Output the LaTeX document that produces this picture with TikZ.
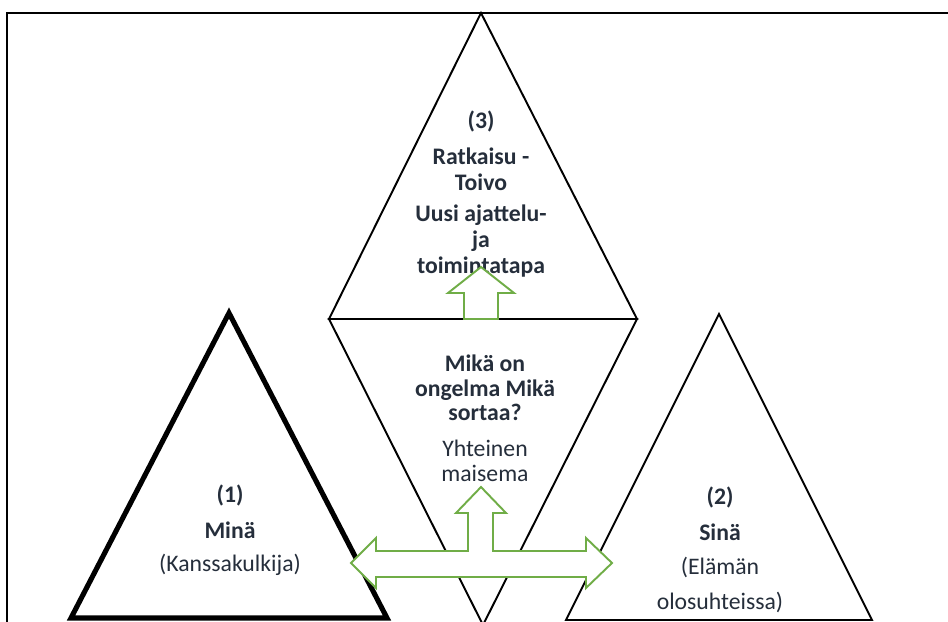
\documentclass[tikz,border=0pt]{standalone}
\usepackage{fontspec}
\setmainfont{Carlito}
\definecolor{textdark}{HTML}{252E3B}
\definecolor{arrowgreen}{HTML}{70AD47}
\tikzset{
  frameline/.style={line width=1.4pt},
  triangle/.style={line width=1.1pt, line join=miter},
  heavytriangle/.style={line width=2.9pt, line join=miter},
  blockarrow/.style={draw=arrowgreen, fill=white, line width=1.1pt},
  heading/.style={text=textdark, inner sep=0pt, align=center,
    font=\fontsize{13.5}{14.7}\selectfont\bfseries},
  caption/.style={text=textdark, inner sep=0pt, align=center,
    font=\fontsize{13.5}{19.8}\selectfont}
}

\begin{document}
\begin{tikzpicture}[x=0.02cm, y=-0.02cm]
  \useasboundingbox (0,0) rectangle (948,622);

  % frame
  \draw[frameline] (7,640) -- (7,13) -- (960,13);

  % triangles
  \draw[triangle] (481,13) -- (637,319) -- (329,319) -- cycle;
  \draw[triangle] (329,319) -- (637,319) -- (483,625) -- cycle;
  \draw[heavytriangle] (229,313) -- (387,618) -- (71,618) -- cycle;
  \draw[triangle] (719,314) -- (872,620) -- (566,620) -- cycle;

  % (3) top
  \node[heading] (topnum)   at (481,121) {(3)};
  \node[heading] (toptitle) at (481,169) {Ratkaisu -\\Toivo};
  \node[heading] (topsub)   at (481,241) {Uusi ajattelu-\\ja\\toimintatapa};

  % middle
  \node[heading, font=\fontsize{13.5}{13.9}\selectfont\bfseries]
    (midtitle) at (485,388) {Mikä on\\ongelma Mikä\\sortaa?};
  \node[caption, font=\fontsize{13.5}{14.2}\selectfont]
    (midsub) at (485,461) {Yhteinen\\maisema};

  % (1) left
  \node[heading] (leftnum)   at (230,495) {(1)};
  \node[heading] (lefttitle) at (230,530) {Minä};
  \node[caption] (leftsub)   at (230,565) {(Kanssakulkija)};

  % (2) right
  \node[heading] (rightnum)   at (720,497) {(2)};
  \node[heading] (righttitle) at (720,532) {Sinä};
  \node[caption] (rightsub)   at (720,585) {(Elämän\\olosuhteissa)};

  % green arrows
  \draw[blockarrow] (464,319) -- (464,293) -- (448,293) -- (481,267)
    -- (514,293) -- (498,293) -- (498,319) -- cycle;
  \draw[blockarrow] (351,563) -- (376,538) -- (376,551) -- (468,551)
    -- (468,513) -- (456,513) -- (481,487) -- (506,513) -- (493,513)
    -- (493,551) -- (586,551) -- (586,538) -- (612,563) -- (586,588)
    -- (586,577) -- (376,577) -- (376,588) -- cycle;
\end{tikzpicture}
\end{document}
